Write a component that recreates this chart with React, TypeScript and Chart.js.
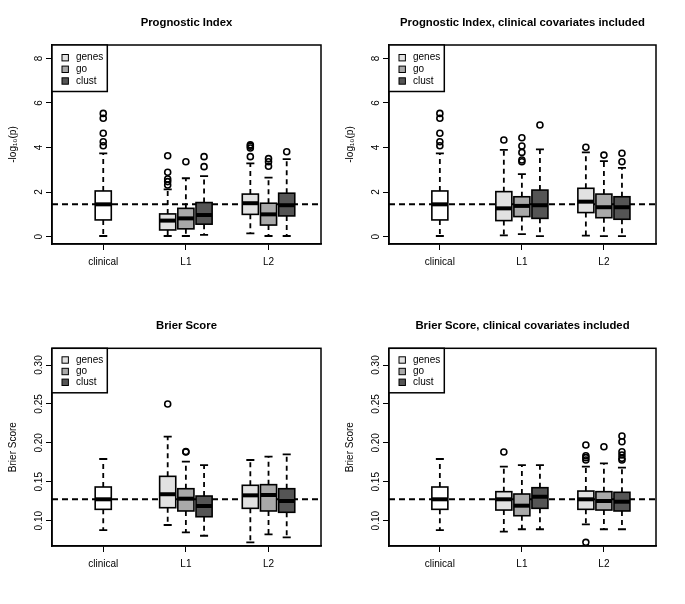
import { useEffect, useRef } from 'react';
import { Chart, registerables } from 'chart.js';

Chart.register(...registerables);

// ---------------- data ----------------
const GROUPS = ['clinical', 'L1', 'L2'];
const METHODS = ['genes', 'go', 'clust'];
const METHOD_FILLS = ['#e2e2e2', '#a9a9a9', '#555555'];
const CLINICAL_FILL = '#ffffff';

// five-number summaries: [lower whisker, Q1, median, Q3, upper whisker]
// Prognostic Index
const piClinical = [0.03, 0.75, 1.45, 2.05, 3.74];
const piClinicalOut = [5.53, 5.31, 4.64, 4.26, 4.08];
const piL1 = [
  [0.03, 0.3, 0.72, 1.02, 2.12],
  [0.03, 0.35, 0.82, 1.27, 2.62],
  [0.08, 0.56, 0.97, 1.53, 2.72],
];
const piL1Out = [[3.63, 2.89, 2.59, 2.47, 2.32], [3.36], [3.59, 3.14]];
const piL2 = [
  [0.15, 1.0, 1.5, 1.91, 3.29],
  [0.03, 0.52, 1.0, 1.5, 2.65],
  [0.03, 0.93, 1.41, 1.95, 3.48],
];
const piL2Out = [[4.12, 4.06, 3.98, 3.59], [3.5, 3.36, 3.16], [3.81]];
const piRef = 1.45;

// Prognostic Index, clinical covariates included
const picClinical = [0.03, 0.75, 1.45, 2.05, 3.74];
const picClinicalOut = [5.53, 5.31, 4.64, 4.26, 4.08];
const picL1 = [
  [0.06, 0.72, 1.27, 2.02, 3.89],
  [0.11, 0.9, 1.38, 1.79, 2.81],
  [0.02, 0.82, 1.41, 2.09, 3.92],
];
const picL1Out = [[4.34], [4.44, 4.07, 3.78, 3.44, 3.36], [5.01]];
const picL2 = [
  [0.05, 1.08, 1.57, 2.17, 3.78],
  [0.02, 0.85, 1.32, 1.91, 3.39],
  [0.02, 0.78, 1.32, 1.79, 3.09],
];
const picL2Out = [[4.01], [3.66], [3.74, 3.36]];
const picRef = 1.45;

// Brier Score
const bsClinical = [0.088, 0.1146, 0.1275, 0.1433, 0.1793];
const bsClinicalOut: number[] = [];
const bsL1 = [
  [0.0945, 0.1167, 0.134, 0.157, 0.2079],
  [0.085, 0.1125, 0.1283, 0.1411, 0.1758],
  [0.0807, 0.1051, 0.1189, 0.1317, 0.1715],
];
const bsL1Out = [[0.25], [0.1882, 0.1888], []];
const bsL2 = [
  [0.0722, 0.1159, 0.1326, 0.1455, 0.178],
  [0.0825, 0.1125, 0.133, 0.1463, 0.1822],
  [0.0787, 0.1108, 0.1253, 0.1411, 0.1853],
];
const bsL2Out: number[][] = [[], [], []];
const bsRef = 0.1275;

// Brier Score, clinical covariates included
const bscClinical = [0.088, 0.1146, 0.1275, 0.1433, 0.1793];
const bscClinicalOut: number[] = [];
const bscL1 = [
  [0.0859, 0.1137, 0.1275, 0.1373, 0.1694],
  [0.089, 0.1064, 0.1193, 0.1343, 0.1715],
  [0.089, 0.1159, 0.1308, 0.1424, 0.1715],
];
const bscL1Out = [[0.1882], [], []];
const bscL2 = [
  [0.0954, 0.1146, 0.1275, 0.1381, 0.1694],
  [0.089, 0.1137, 0.1253, 0.1373, 0.1737],
  [0.089, 0.1125, 0.1244, 0.1365, 0.1681],
];
const bscL2Out = [
  [0.1972, 0.1835, 0.181, 0.178, 0.0722],
  [0.195],
  [0.2088, 0.2015, 0.1886, 0.1844, 0.1801, 0.178],
];
const bscRef = 0.1275;

const PI_TICKS = [0, 2, 4, 6, 8];
const BS_TICKS = [0.1, 0.15, 0.2, 0.25, 0.3];

// ---------------- style / layout ----------------
const FONT = "'Liberation Sans', Arial, Helvetica, sans-serif";
const X_MIN = 0.38;
const X_MAX = 3.635;
const GROUP_OFFSET = 0.22;
const BOX_WIDTH = 0.195;

type Box = { pos: number; stats: number[]; out: number[]; fill: string };

function buildBoxes(
  clin: number[],
  clinOut: number[],
  l1: number[][],
  l1Out: number[][],
  l2: number[][],
  l2Out: number[][]
): Box[] {
  const boxes: Box[] = [{ pos: 1, stats: clin, out: clinOut, fill: CLINICAL_FILL }];
  [l1, l2].forEach((grp, gi) => {
    const outs = gi === 0 ? l1Out : l2Out;
    grp.forEach((stats, mi) => {
      boxes.push({
        pos: gi + 2 + (mi - 1) * GROUP_OFFSET,
        stats,
        out: outs[mi],
        fill: METHOD_FILLS[mi],
      });
    });
  });
  return boxes;
}

type PanelCfg = {
  title: string;
  yTitle: string;
  left: number;
  top: number;
  width: number;
  height: number;
  pad: { left: number; top: number; right: number; bottom: number };
  yMin: number;
  yMax: number;
  yTicks: number[];
  fmt: (v: number) => string;
  yTickPad: number;
  ref: number;
  boxes: Box[];
  legendH: number;
  legendRows: number[];
};

const PANELS: PanelCfg[] = [
  {
    title: 'Prognostic Index',
    yTitle: '-log\u2081\u2080(p)',
    left: 0, top: 0, width: 337, height: 300,
    pad: { left: 0, top: 45, right: 16, bottom: 26 },
    yMin: -0.33, yMax: 8.6, yTicks: PI_TICKS, fmt: (v) => String(v), yTickPad: 3.9,
    ref: piRef,
    boxes: buildBoxes(piClinical, piClinicalOut, piL1, piL1Out, piL2, piL2Out),
    legendH: 46.5, legendRows: [12.7, 24.3, 36],
  },
  {
    title: 'Prognostic Index, clinical covariates included',
    yTitle: '-log\u2081\u2080(p)',
    left: 337, top: 0, width: 348, height: 300,
    pad: { left: 0, top: 45, right: 29, bottom: 26 },
    yMin: -0.33, yMax: 8.6, yTicks: PI_TICKS, fmt: (v) => String(v), yTickPad: 3.9,
    ref: picRef,
    boxes: buildBoxes(picClinical, picClinicalOut, picL1, picL1Out, picL2, picL2Out),
    legendH: 46.5, legendRows: [12.7, 24.3, 36],
  },
  {
    title: 'Brier Score',
    yTitle: 'Brier Score',
    left: 0, top: 300, width: 337, height: 304,
    pad: { left: 0, top: 48.3, right: 16, bottom: 28 },
    yMin: 0.0675, yMax: 0.3215, yTicks: BS_TICKS, fmt: (v) => v.toFixed(2), yTickPad: -3,
    ref: bsRef,
    boxes: buildBoxes(bsClinical, bsClinicalOut, bsL1, bsL1Out, bsL2, bsL2Out),
    legendH: 44.5, legendRows: [11.7, 23.2, 34],
  },
  {
    title: 'Brier Score, clinical covariates included',
    yTitle: 'Brier Score',
    left: 337, top: 300, width: 348, height: 304,
    pad: { left: 0, top: 48.3, right: 29, bottom: 28 },
    yMin: 0.0675, yMax: 0.3215, yTicks: BS_TICKS, fmt: (v) => v.toFixed(2), yTickPad: -3,
    ref: bscRef,
    boxes: buildBoxes(bscClinical, bscClinicalOut, bscL1, bscL1Out, bscL2, bscL2Out),
    legendH: 44.5, legendRows: [11.7, 23.2, 34],
  },
];

function makeBoxPlugin(p: PanelCfg) {
  return {
    id: 'rboxes',
    afterDatasetsDraw(chart: any) {
      const { ctx } = chart;
      const x = chart.scales.x;
      const y = chart.scales.y;
      ctx.save();
      ctx.strokeStyle = '#000';
      for (const b of p.boxes) {
        const cx = x.getPixelForValue(b.pos);
        const hw = x.getPixelForValue(b.pos + BOX_WIDTH / 2) - cx;
        const [lo, q1, med, q3, hi] = b.stats.map((v) => y.getPixelForValue(v));
        // whiskers (dashed)
        ctx.lineWidth = 1.8;
        ctx.setLineDash([5, 4]);
        ctx.beginPath();
        ctx.moveTo(cx, q3);
        ctx.lineTo(cx, hi);
        ctx.moveTo(cx, q1);
        ctx.lineTo(cx, lo);
        ctx.stroke();
        ctx.setLineDash([]);
        // staples
        ctx.beginPath();
        ctx.moveTo(cx - hw / 2, hi);
        ctx.lineTo(cx + hw / 2, hi);
        ctx.moveTo(cx - hw / 2, lo);
        ctx.lineTo(cx + hw / 2, lo);
        ctx.stroke();
        // box
        ctx.fillStyle = b.fill;
        ctx.fillRect(cx - hw, q3, 2 * hw, q1 - q3);
        ctx.lineWidth = 1.6;
        ctx.strokeRect(cx - hw, q3, 2 * hw, q1 - q3);
        // median
        ctx.lineWidth = 4;
        ctx.beginPath();
        ctx.moveTo(cx - hw, med);
        ctx.lineTo(cx + hw, med);
        ctx.stroke();
      }
      ctx.restore();
    },
    afterDraw(chart: any) {
      const { ctx, chartArea } = chart;
      const { left, top, right, bottom } = chartArea;
      ctx.save();
      // frame
      ctx.strokeStyle = '#000';
      ctx.lineWidth = 1.5;
      ctx.strokeRect(left, top, right - left, bottom - top);
      // title
      ctx.fillStyle = '#000';
      ctx.font = `bold 11.3px ${FONT}`;
      ctx.textAlign = 'center';
      ctx.textBaseline = 'alphabetic';
      ctx.fillText(p.title, (left + right) / 2, top - 19);
      // legend
      const lw = 55.3;
      ctx.fillStyle = '#fff';
      ctx.fillRect(left, top, lw, p.legendH);
      ctx.lineWidth = 1.5;
      ctx.strokeRect(left, top, lw, p.legendH);
      ctx.font = `10px ${FONT}`;
      ctx.textAlign = 'left';
      ctx.textBaseline = 'middle';
      METHODS.forEach((m, i) => {
        const ry = top + p.legendRows[i];
        ctx.fillStyle = METHOD_FILLS[i];
        ctx.fillRect(left + 10, ry - 3.2, 6.4, 6.4);
        ctx.lineWidth = 1;
        ctx.strokeRect(left + 10, ry - 3.2, 6.4, 6.4);
        ctx.fillStyle = '#000';
        ctx.fillText(m, left + 24, ry);
      });
      ctx.restore();
    },
  };
}

function Panel({ p }: { p: PanelCfg }) {
  const ref = useRef<HTMLCanvasElement>(null);
  useEffect(() => {
    if (!ref.current) return;
    const outliers: { x: number; y: number }[] = [];
    p.boxes.forEach((b) => b.out.forEach((v) => outliers.push({ x: b.pos, y: v })));
    const chart = new Chart(ref.current, {
      type: 'scatter',
      data: {
        datasets: [
          {
            type: 'line',
            data: [
              { x: X_MIN, y: p.ref },
              { x: X_MAX, y: p.ref },
            ],
            borderColor: '#000',
            borderWidth: 2,
            borderDash: [6, 4],
            pointRadius: 0,
            fill: false,
          } as any,
          {
            data: outliers,
            pointStyle: 'circle',
            pointRadius: 3,
            borderWidth: 1.6,
            borderColor: '#000',
            backgroundColor: 'rgba(0,0,0,0)',
          },
        ],
      },
      options: {
        animation: false,
        responsive: false,
        events: [],
        layout: { padding: p.pad },
        plugins: {
          legend: { display: false },
          tooltip: { enabled: false },
          title: { display: false },
        },
        scales: {
          x: {
            type: 'linear',
            min: X_MIN,
            max: X_MAX,
            afterBuildTicks: (s: any) => {
              s.ticks = GROUPS.map((_, i) => ({ value: i + 1 }));
            },
            afterFit: (s: any) => {
              s.height = 30;
            },
            ticks: {
              autoSkip: false,
              maxRotation: 0,
              padding: 6.5,
              color: '#000',
              font: { family: FONT, size: 10 },
              callback: (v: any) => GROUPS[Math.round(Number(v)) - 1] ?? '',
            },
            grid: { display: true, drawOnChartArea: false, drawTicks: true, tickLength: 6, color: '#000', lineWidth: 1 },
            border: { display: true, color: '#000', width: 1.5 },
          },
          y: {
            type: 'linear',
            min: p.yMin,
            max: p.yMax,
            afterBuildTicks: (s: any) => {
              s.ticks = p.yTicks.map((value) => ({ value }));
            },
            afterFit: (s: any) => {
              s.width = 52;
            },
            ticks: {
              autoSkip: false,
              minRotation: 90,
              maxRotation: 90,
              crossAlign: 'center',
              padding: p.yTickPad,
              color: '#000',
              font: { family: FONT, size: 10 },
              callback: (v: any) => p.fmt(Number(v)),
            },
            title: {
              display: true,
              text: p.yTitle,
              color: '#000',
              font: { family: FONT, size: 10 },
              padding: { top: 7.3, bottom: 0 },
            },
            grid: { display: true, drawOnChartArea: false, drawTicks: true, tickLength: 6, color: '#000', lineWidth: 1 },
            border: { display: true, color: '#000', width: 1.5 },
          },
        },
      } as any,
      plugins: [makeBoxPlugin(p)],
    });
    return () => chart.destroy();
  }, [p]);
  return (
    <canvas
      ref={ref}
      width={p.width}
      height={p.height}
      style={{ position: 'absolute', left: p.left, top: p.top, width: p.width, height: p.height }}
    />
  );
}

export default function App() {
  return (
    <div style={{ position: 'absolute', left: 0, top: 0, width: 685, height: 604, background: '#fff' }}>
      {PANELS.map((p, i) => (
        <Panel key={i} p={p} />
      ))}
    </div>
  );
}
